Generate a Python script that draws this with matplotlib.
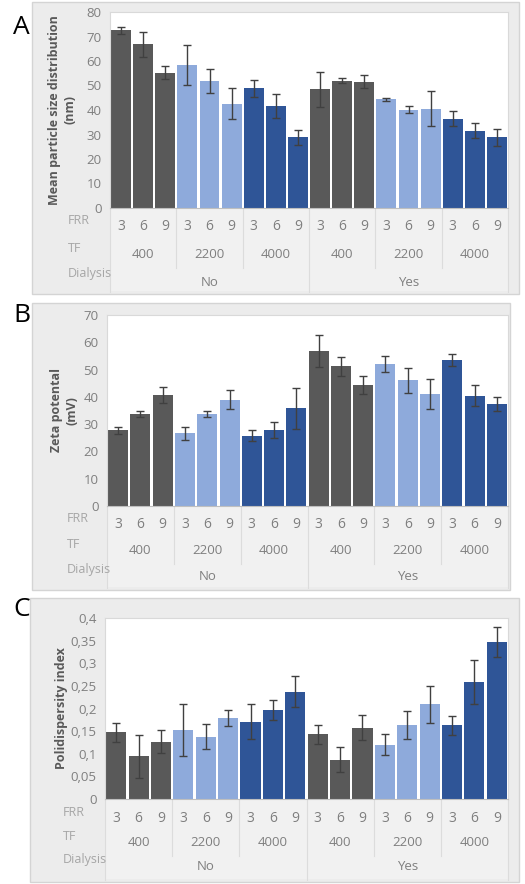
import matplotlib.pyplot as plt
from matplotlib.patches import Rectangle

plt.rcParams['font.family'] = ['Open Sans', 'DejaVu Sans']

# category labels
frr = ["3", "6", "9"] * 6
tf = ["400", "2200", "4000", "400", "2200", "4000"]
dialysis = ["No", "Yes"]

# panel A: mean particle size (nm)
size_mean = [72.6, 66.8, 55.3, 58.4, 52.0, 42.6, 48.8, 41.8, 28.9,
             48.5, 51.9, 51.6, 44.3, 40.2, 40.6, 36.5, 31.6, 28.9]
size_err = [1.4, 5.0, 2.6, 8.2, 4.9, 6.3, 3.4, 4.9, 3.1,
            7.1, 1.0, 2.7, 0.7, 1.4, 7.1, 3.0, 3.1, 3.5]

# panel B: zeta potential (mV)
zeta_mean = [27.8, 33.7, 40.7, 26.7, 33.7, 39.0, 25.7, 27.8, 35.9,
             56.7, 51.2, 44.3, 52.0, 46.0, 41.0, 53.5, 40.4, 37.4]
zeta_err = [1.3, 1.2, 3.0, 2.4, 1.2, 3.5, 2.0, 3.0, 7.5,
            5.9, 3.4, 3.2, 2.9, 4.6, 5.4, 2.2, 3.8, 2.6]

# panel C: polydispersity index
pdi_mean = [0.147, 0.094, 0.127, 0.152, 0.138, 0.179, 0.171, 0.197, 0.237,
            0.143, 0.087, 0.158, 0.120, 0.163, 0.209, 0.163, 0.259, 0.347]
pdi_err = [0.021, 0.047, 0.026, 0.057, 0.027, 0.018, 0.039, 0.022, 0.034,
           0.021, 0.028, 0.027, 0.023, 0.031, 0.040, 0.021, 0.049, 0.034]

W, H = 525, 884
grp_colors = ["#595959", "#8eaadb", "#2f5597"]
txt_col = "#7f7f7f"

fig = plt.figure(figsize=(W / 100, H / 100), dpi=100)
fig.patch.set_facecolor("white")


def px_rect(x0, y0, x1, y1):
    # pixel box (top-left origin) -> figure fraction [l, b, w, h]
    return [x0 / W, 1 - y1 / H, (x1 - x0) / W, (y1 - y0) / H]


def panel(letter, let_y, box, plot, mean, err, ylim, yticks, yticklabels,
          ylabel, rows, lab_x, ylab_x):
    bl, bb, bw, bh = px_rect(*box)
    fig.patches.append(Rectangle((bl, bb), bw, bh, transform=fig.transFigure,
                                 facecolor="#ececec", edgecolor="#d4d4d4",
                                 lw=1, zorder=-5))
    # slightly lighter band behind the category labels
    cl, cb, cw, ch = px_rect(plot[0], plot[3], plot[2], box[3] - 3)
    fig.patches.append(Rectangle((cl, cb), cw, ch, transform=fig.transFigure,
                                 facecolor="#f1f1f1", edgecolor="none",
                                 zorder=-4))
    fig.text(13 / W, 1 - let_y / H, letter, fontsize=19,
             ha="left", va="center", color="black")

    ax = fig.add_axes(px_rect(*plot))
    ax.set_facecolor("white")
    x = list(range(len(mean)))
    cols = [grp_colors[(i // 3) % 3] for i in x]
    ax.bar(x, mean, width=0.9, color=cols, zorder=2)
    ax.errorbar(x, mean, yerr=err, fmt="none", ecolor="#404040",
                elinewidth=1, capsize=3, capthick=1, zorder=3)
    ax.set_xlim(-0.5, 17.5)
    ax.set_ylim(*ylim)
    ax.set_yticks(yticks)
    ax.set_yticklabels(yticklabels)
    ax.set_xticks([])
    ax.tick_params(axis="y", length=0, labelsize=9.5, labelcolor=txt_col, pad=6)
    for s in ax.spines.values():
        s.set_color("#d9d9d9")
    ax.spines["bottom"].set_color("#bfbfbf")

    fig.text(ylab_x / W, 1 - (plot[1] + plot[3]) / 2 / H, ylabel,
             rotation=90, ha="center", va="center", fontsize=9,
             fontweight="bold", color="#595959", multialignment="center")

    # category rows under the plot
    ph = plot[3] - plot[1]
    bot = plot[3]

    def yfrac(py):
        return -(py - bot) / ph

    tr = ax.get_xaxis_transform()
    frr_y, tf_y, dia_y = rows
    for i in x:
        ax.text(i, yfrac(frr_y), frr[i], transform=tr, ha="center",
                va="center", fontsize=10, color=txt_col, clip_on=False)
    for g, t in enumerate(tf):
        ax.text(g * 3 + 1, yfrac(tf_y), t, transform=tr, ha="center",
                va="center", fontsize=9.5, color=txt_col, clip_on=False)
    for d, t in enumerate(dialysis):
        ax.text(d * 9 + 4, yfrac(dia_y), t, transform=tr, ha="center",
                va="center", fontsize=9.5, color=txt_col, clip_on=False)

    for xb in [2.5, 5.5, 11.5, 14.5]:
        ax.plot([xb, xb], [0, yfrac(tf_y + 14)], transform=tr,
                color="#dcdcdc", lw=0.8, clip_on=False)
    for xb in [-0.5, 8.5, 17.5]:
        ax.plot([xb, xb], [0, yfrac(box[3] - 2)], transform=tr,
                color="#dcdcdc", lw=0.8, clip_on=False)

    for t, py in zip(["FRR", "TF", "Dialysis"],
                     [frr_y - 6, tf_y - 5, dia_y - 8]):
        fig.text(lab_x / W, 1 - py / H, t, ha="left", va="center",
                 fontsize=9, color="#a6a6a6")
    return ax


panel("A", 27, (32, 2, 519, 294), (110, 12, 508, 208), size_mean, size_err,
      (0, 80), range(0, 81, 10), [str(v) for v in range(0, 81, 10)],
      "Mean particle size distribution\n(nm)", (227, 254, 282), 68, 62)

panel("B", 316, (32, 303, 510, 590), (107, 315, 508, 506), zeta_mean,
      zeta_err, (0, 70), range(0, 71, 10), [str(v) for v in range(0, 71, 10)],
      "Zeta potental\n(mV)", (524, 550, 577), 67, 64)

pdi_ticks = [0, 0.05, 0.1, 0.15, 0.2, 0.25, 0.3, 0.35, 0.4]
pdi_labels = ["0", "0,05", "0,1", "0,15", "0,2", "0,25", "0,3", "0,35", "0,4"]
panel("C", 610, (30, 598, 519, 882), (105, 618, 508, 799), pdi_mean, pdi_err,
      (0, 0.4), pdi_ticks, pdi_labels,
      "Polidispersity index", (818, 842, 867), 63, 61)

fig.savefig("out.png", dpi=100)
